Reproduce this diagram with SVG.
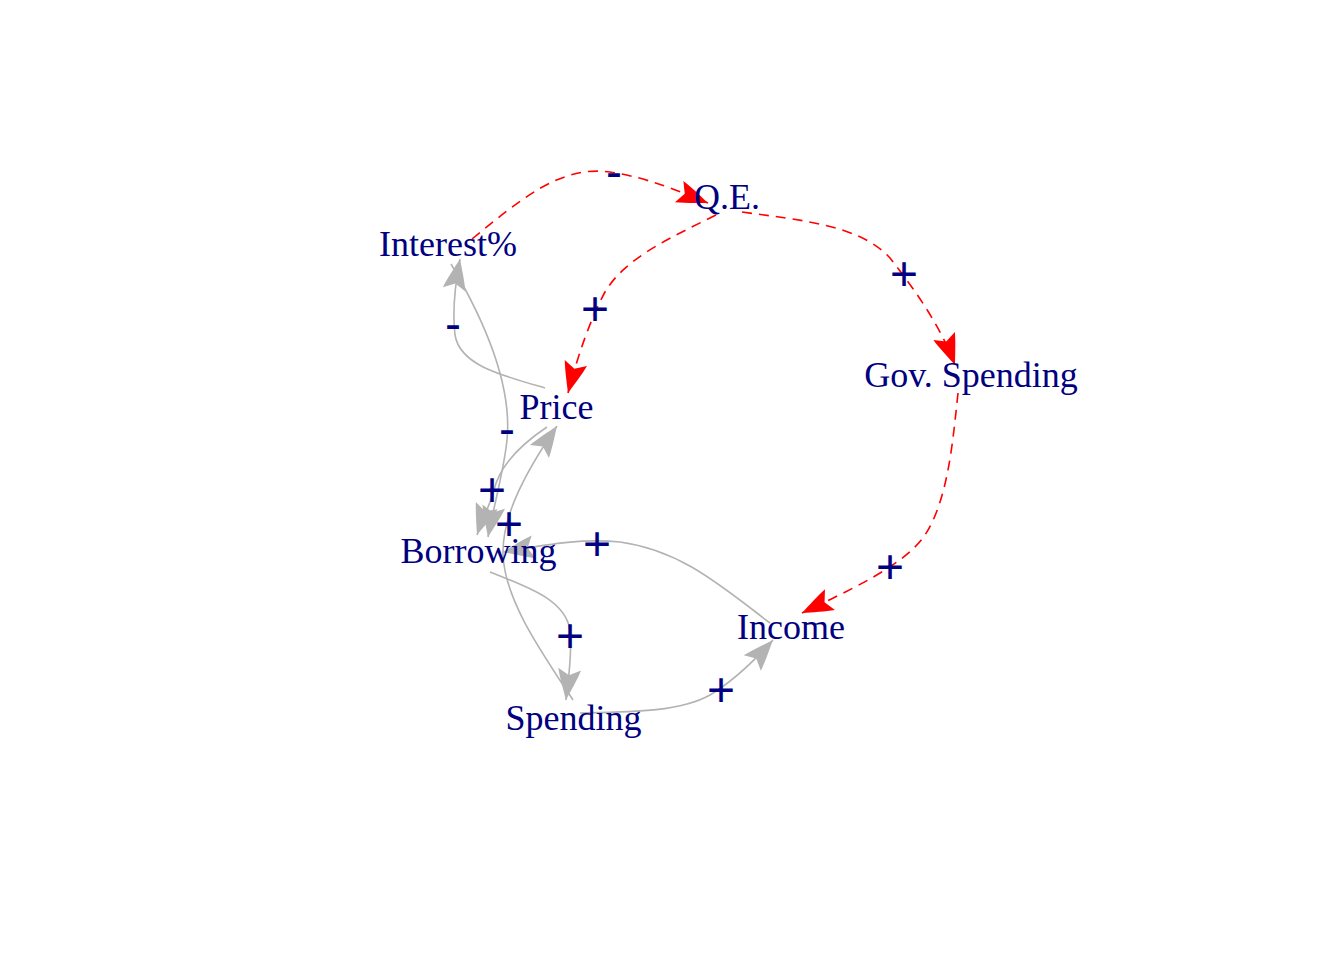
<svg xmlns="http://www.w3.org/2000/svg" width="1344" height="960" viewBox="0 0 1344 960">
<style>
.bg{fill:#FFFFFF}
.g{fill:none;stroke:#B3B3B3;stroke-width:1.6;marker-end:url(#ag)}
.r{fill:none;stroke:#FF0000;stroke-width:1.6;stroke-dasharray:10 7;marker-end:url(#ar)}
.node text{font-family:"Liberation Serif","Times New Roman",serif;font-size:36px;fill:#000080;text-anchor:middle}
.lbl{font-family:"Liberation Sans",Arial,sans-serif;font-size:48px;fill:#000080;text-anchor:middle}
</style>
<defs>
<marker id="ag" markerUnits="userSpaceOnUse" viewBox="-34 -14 36 28" refX="0" refY="0" markerWidth="36" markerHeight="28" orient="auto">
<path d="M0,0 C-10,-4 -22,-9 -31,-11.5 L-25,0 L-31,11.5 C-22,9 -10,4 0,0 Z" fill="#B3B3B3"/>
</marker>
<marker id="ar" markerUnits="userSpaceOnUse" viewBox="-34 -14 36 28" refX="0" refY="0" markerWidth="36" markerHeight="28" orient="auto">
<path d="M0,0 C-10,-4 -22,-9 -31,-11.5 L-25,0 L-31,11.5 C-22,9 -10,4 0,0 Z" fill="#FF0000"/>
</marker>
</defs>
<rect class="bg" x="0" y="0" width="1344" height="960"/>
<g id="connectors">
<path id="e-interest-qe" class="r" d="M472,239 C520,200 560,165 610,172 C650,178 680,192 708,203"/>
<path id="e-qe-price" class="r" d="M716,215 C670,238 625,258 605,292 C590,320 578,355 568,393"/>
<path id="e-qe-gov" class="r" d="M742,212 C800,220 860,225 890,258 C915,290 940,325 955,365"/>
<path id="e-gov-income" class="r" d="M958,393 C953,440 948,500 925,535 C905,565 850,590 802,613"/>
<path id="e-price-interest" class="g" d="M545,388 C500,375 460,365 455,335 C452,310 455,285 460,259"/>
<path id="e-interest-borrowing" class="g" d="M451,264 C490,330 512,390 507,440 C504,470 494,505 488,537"/>
<path id="e-price-borrowing" class="g" d="M547,427 C520,445 500,465 494,490 C490,505 482,520 477,535"/>
<path id="e-spending-price" class="g" d="M573,700 C540,650 505,600 503,555 C502,520 520,480 557,426"/>
<path id="e-borrowing-spending" class="g" d="M490,572 C530,588 565,600 570,630 C572,650 569,675 566,700"/>
<path id="e-income-borrowing" class="g" d="M770,623 C720,585 680,550 620,542 C580,538 545,545 503,552"/>
<path id="e-spending-income" class="g" d="M580,713 C630,712 680,712 710,695 C735,680 755,660 773,640"/>
</g>
<g id="edge-labels">
<text class="lbl" x="614" y="188">-</text>
<text class="lbl" x="595" y="325">+</text>
<text class="lbl" x="904" y="290">+</text>
<text class="lbl" x="890" y="583">+</text>
<text class="lbl" x="453" y="340">-</text>
<text class="lbl" x="507" y="445">-</text>
<text class="lbl" x="492" y="506">+</text>
<text class="lbl" x="509" y="540">+</text>
<text class="lbl" x="597" y="560">+</text>
<text class="lbl" x="570" y="652">+</text>
<text class="lbl" x="721" y="706">+</text>
</g>
<g id="node-interest" class="node"><text x="448" y="256">Interest%</text></g>
<g id="node-qe" class="node"><text x="727" y="209">Q.E.</text></g>
<g id="node-gov" class="node"><text x="971" y="387">Gov. Spending</text></g>
<g id="node-price" class="node"><text x="556.5" y="419">Price</text></g>
<g id="node-borrowing" class="node"><text x="478.5" y="563">Borrowing</text></g>
<g id="node-income" class="node"><text x="791" y="639">Income</text></g>
<g id="node-spending" class="node"><text x="573.5" y="730">Spending</text></g>
</svg>
